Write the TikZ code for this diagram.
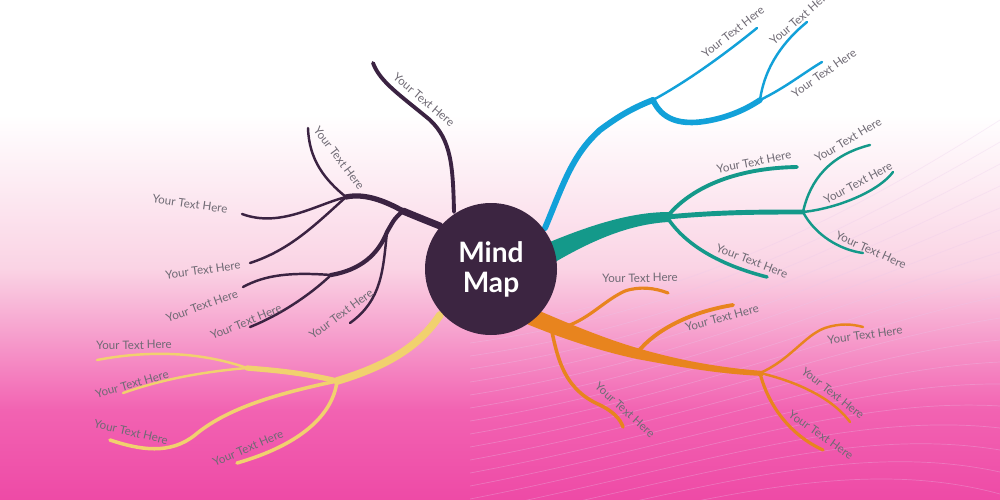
\documentclass[tikz,border=0pt]{standalone}
\usepackage{fontspec}
\setmainfont{Lato}
\usepackage{tikz}
\usetikzlibrary{positioning}

\definecolor{hubc}{HTML}{3C2541}
\definecolor{dkc}{HTML}{3B2342}
\definecolor{blc}{HTML}{12A1D9}
\definecolor{tlc}{HTML}{14998A}
\definecolor{orc}{HTML}{E8841E}
\definecolor{ylc}{HTML}{F1D16E}
\definecolor{lblgray}{HTML}{6F6A74}
\definecolor{bgA}{HTML}{FAD3E4}
\definecolor{bgB}{HTML}{F263B2}
\definecolor{bgC}{HTML}{EE4AA6}
\definecolor{veil}{HTML}{E9C8EC}

\begin{document}
\begin{tikzpicture}[x=0.2mm, y=-0.2mm,
  lbl/.style={text=lblgray, font=\fontsize{6.6}{8}\selectfont, inner sep=0pt},
  trunk/.style={line width=#1, line cap=round},
  twig/.style={line width=1.4pt, line cap=round},
  faint/.style={draw=veil, opacity=0.3, line width=0.4pt},
  hubnode/.style={circle, fill=hubc, minimum size=26.4mm, inner sep=0pt, text=white,
    align=center, font=\fontsize{16}{17}\selectfont\bfseries},
]
\useasboundingbox (0,0) rectangle (1000,500);
\clip (0,0) rectangle (1000,500);

% background
\fill[white] (0,0) rectangle (1000,116);
\shade[top color=white, bottom color=bgA] (0,115) rectangle (1000,270);
\shade[top color=bgA, bottom color=bgB] (0,269) rectangle (1000,410);
\shade[top color=bgB, bottom color=bgC] (0,409) rectangle (1000,500);
\foreach \i in {0,...,17}
  \draw[faint] (470,330+\i*13) .. controls (690,300+\i*12) and (850,215+\i*14) .. (1000,120+\i*22);

\coordinate (hubc) at (491,269);

% dark branch
\coordinate (dk0) at (440,226);
\coordinate (dkT) at (454,212);
\coordinate (dkA) at (403,211);
\coordinate (dkJ) at (346,197);
\coordinate (dkB) at (387,232);
\coordinate (dkC) at (331,275);
\coordinate (dkE1) at (373,63);
\coordinate (dkE2) at (308,128);
\coordinate (dkE3) at (242,214);
\coordinate (dkE4) at (250,263);
\coordinate (dkE5) at (243,287);
\coordinate (dkE6) at (250,327);
\coordinate (dkE7) at (350,323);
\begin{scope}[draw=dkc]
\draw[trunk=4pt] (dk0) .. controls (420,218) .. (dkA);
\draw[trunk=3pt] (dkA) .. controls (385,201) and (365,193) .. (dkJ);
\draw[trunk=2.2pt] (dkT) .. controls (453,165) and (451,140) .. (430,120) .. controls (400,95) and (380,82) .. (dkE1);
\draw[twig] (dkJ) .. controls (325,180) and (309,160) .. (dkE2);
\draw[twig] (dkJ) .. controls (315,205) and (280,228) .. (dkE3);
\draw[twig] (dkJ) .. controls (315,225) and (290,250) .. (dkE4);
\draw[trunk=2.4pt] (dkA) .. controls (395,218) .. (dkB) .. controls (378,255) and (360,270) .. (dkC);
\draw[twig] (dkC) .. controls (290,272) and (265,275) .. (dkE5);
\draw[twig] (dkC) .. controls (310,295) and (280,315) .. (dkE6);
\draw[twig] (dkB) .. controls (383,270) and (382,300) .. (dkE7);
\end{scope}
\node[lbl, rotate=-40] (dl1) at (424,100) {Your Text Here};
\node[lbl, rotate=-53] (dl2) at (339,158) {Your Text Here};
\node[lbl, rotate=-8]  (dl3) at (190,204) {Your Text Here};
\node[lbl, rotate=8]   (dl4) at (203,270) {Your Text Here};
\node[lbl, rotate=20]  (dl5) at (202,306) {Your Text Here};
\node[lbl, rotate=22]  (dl6) at (246,322) {Your Text Here};
\node[lbl, rotate=36]  (dl7) at (341,314) {Your Text Here};

% blue branch
\coordinate (bl0) at (545,228);
\coordinate (blJ) at (653,100);
\coordinate (blK) at (760,100);
\coordinate (blE1) at (757,28);
\coordinate (blE2) at (807,22);
\coordinate (blE3) at (822,62);
\begin{scope}[draw=blc]
\draw[trunk=3.4pt] (bl0) .. controls (563,185) and (572,155) .. (600,130) .. controls (620,115) and (635,107) .. (blJ);
\draw[twig] (blJ) .. controls (690,80) and (730,50) .. (blE1);
\draw[trunk=3.2pt] (blJ) .. controls (662,120) and (680,124) .. (700,122) .. controls (725,119) and (745,110) .. (blK);
\draw[twig] (blK) .. controls (765,65) and (785,40) .. (blE2);
\draw[twig] (blK) .. controls (785,88) and (805,72) .. (blE3);
\end{scope}
\node[lbl, rotate=38] (bt1) at (733,32) {Your Text Here};
\node[lbl, rotate=41] (bt2) at (800,18) {Your Text Here};
\node[lbl, rotate=35] (bt3) at (824,73) {Your Text Here};

% teal branch
\coordinate (tlJ) at (667,217);
\coordinate (tlK) at (803,212);
\coordinate (tlE1) at (797,167);
\coordinate (tlE2) at (767,277);
\coordinate (tlE3) at (870,145);
\coordinate (tlE4) at (893,172);
\coordinate (tlE5) at (863,253);
\fill[tlc] (545,244) .. controls (588,226) and (630,212) .. (669,212)
  -- (669,222) .. controls (630,224) and (592,240) .. (550,265) -- cycle;
\begin{scope}[draw=tlc]
\draw[trunk=2.2pt] (tlJ) .. controls (690,188) and (735,168) .. (tlE1);
\draw[trunk=2pt] (tlJ) .. controls (685,245) and (720,265) .. (tlE2);
\draw[trunk=2.8pt] (tlJ) .. controls (720,212) and (760,212) .. (tlK);
\draw[twig] (tlK) .. controls (810,180) and (830,155) .. (tlE3);
\draw[twig] (tlK) .. controls (840,208) and (880,190) .. (tlE4);
\draw[twig] (tlK) .. controls (815,235) and (840,250) .. (tlE5);
\end{scope}
\node[lbl, rotate=11]  (tt1) at (754,162) {Your Text Here};
\node[lbl, rotate=-21] (tt2) at (752,261) {Your Text Here};
\node[lbl, rotate=31]  (tt3) at (848,140) {Your Text Here};
\node[lbl, rotate=28]  (tt4) at (858,183) {Your Text Here};
\node[lbl, rotate=-24] (tt5) at (871,250) {Your Text Here};

% orange branch
\coordinate (orA) at (567,326);
\coordinate (orB) at (552,332);
\coordinate (orJ) at (637,353);
\coordinate (orK) at (760,373);
\coordinate (orE1) at (668,293);
\coordinate (orE2) at (623,427);
\coordinate (orE3) at (733,305);
\coordinate (orE4) at (863,327);
\coordinate (orE5) at (850,422);
\coordinate (orE6) at (823,450);
\fill[orc] (528,306) .. controls (565,322) and (600,337) .. (637,348) .. controls (685,362) and (725,368) .. (763,371)
  -- (763,376) .. controls (720,374) and (685,368) .. (637,359) .. controls (600,351) and (560,338) .. (522,322) -- cycle;
\begin{scope}[draw=orc]
\draw[trunk=1.8pt] (orA) .. controls (590,318) and (605,300) .. (625,291) .. controls (640,286) and (655,288) .. (orE1);
\draw[trunk=2pt] (orB) .. controls (558,360) and (565,390) .. (600,405) .. controls (612,411) and (620,418) .. (orE2);
\draw[trunk=2.2pt] (orJ) .. controls (655,330) and (690,312) .. (orE3);
\draw[twig] (orK) .. controls (790,360) and (805,335) .. (825,328) .. controls (840,323) and (852,324) .. (orE4);
\draw[twig] (orK) .. controls (790,380) and (830,395) .. (orE5);
\draw[trunk=1.8pt] (orK) .. controls (768,405) and (790,435) .. (orE6);
\end{scope}
\node[lbl, rotate=1]   (ot1) at (640,278) {Your Text Here};
\node[lbl, rotate=-42] (ot2) at (625,410) {Your Text Here};
\node[lbl, rotate=15]  (ot3) at (722,318) {Your Text Here};
\node[lbl, rotate=8]   (ot4) at (865,335) {Your Text Here};
\node[lbl, rotate=-38] (ot5) at (833,393) {Your Text Here};
\node[lbl, rotate=-35] (ot6) at (821,435) {Your Text Here};

% yellow branch
\coordinate (yl0) at (440,315);
\coordinate (ylJ) at (337,381);
\coordinate (ylK) at (247,368);
\coordinate (ylE1) at (97,360);
\coordinate (ylE2) at (123,393);
\coordinate (ylE3) at (110,440);
\coordinate (ylE4) at (237,463);
\begin{scope}[draw=ylc]
\draw[trunk=4.4pt] (yl0) .. controls (420,345) and (390,365) .. (ylJ);
\draw[trunk=3pt] (ylJ) .. controls (300,372) and (270,370) .. (ylK);
\draw[twig] (ylK) .. controls (210,355) and (160,348) .. (ylE1);
\draw[twig] (ylK) .. controls (200,372) and (160,380) .. (ylE2);
\draw[trunk=2pt] (ylJ) .. controls (270,395) and (225,410) .. (195,435) .. controls (170,455) and (140,450) .. (ylE3);
\draw[trunk=2pt] (ylJ) .. controls (333,415) and (300,445) .. (ylE4);
\end{scope}
\node[lbl, rotate=1]   (yt1) at (134,345) {Your Text Here};
\node[lbl, rotate=16]  (yt2) at (132,384) {Your Text Here};
\node[lbl, rotate=-13] (yt3) at (131,432) {Your Text Here};
\node[lbl, rotate=23]  (yt4) at (248,448) {Your Text Here};

\node[hubnode] (hub) at (hubc) {Mind\\Map};
\end{tikzpicture}
\end{document}
